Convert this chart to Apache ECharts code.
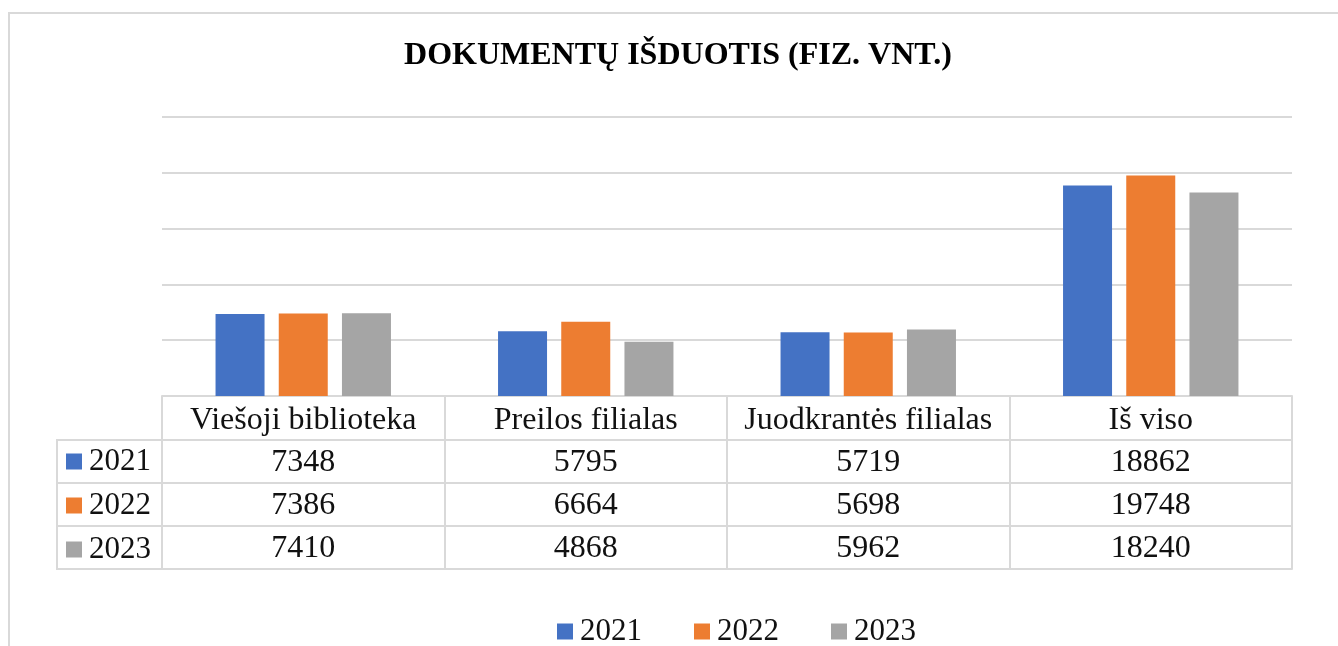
<!DOCTYPE html>
<html>
<head>
<meta charset="utf-8">
<script src="https://cdn.jsdelivr.net/npm/echarts@6/dist/echarts.min.js"></script>
<style>html,body{margin:0;padding:0;background:#fff;}#c{width:1338px;height:646px;}</style>
</head>
<body>
<div id="c"></div>
<script>
const title = 'DOKUMENTŲ IŠDUOTIS (FIZ. VNT.)';
const categories = ['Viešoji biblioteka', 'Preilos filialas', 'Juodkrantės filialas', 'Iš viso'];
const seriesNames = ['2021', '2022', '2023'];
const v2021 = [7348, 5795, 5719, 18862];
const v2022 = [7386, 6664, 5698, 19748];
const v2023 = [7410, 4868, 5962, 18240];
const colors = ['#4472C4', '#ED7D31', '#A5A5A5'];
const yTicks = [0, 5000, 10000, 15000, 20000, 25000];

const seriesValues = [v2021, v2022, v2023];
const FONT = '"Liberation Serif","Times New Roman",serif';
const LINE = '#d9d9d9';
const LW = 2;
const rowOffsets = [44, 87, 130];

const chart = echarts.init(document.getElementById('c'));

const xAxes = [{
  type: 'category', data: categories, gridIndex: 0, position: 'bottom',
  axisLine: { lineStyle: { color: LINE, width: LW } },
  axisTick: { show: true, length: 173, lineStyle: { color: LINE, width: LW } },
  axisLabel: { interval: 0, color: '#111', fontFamily: FONT, fontSize: 32, margin: 25, verticalAlign: 'middle' }
}];
seriesValues.forEach((vals, i) => {
  xAxes.push({
    type: 'category', data: categories, gridIndex: 0, position: 'bottom', offset: rowOffsets[i],
    axisLine: { lineStyle: { color: LINE, width: LW } },
    axisTick: { show: false },
    axisLabel: { interval: 0, color: '#111', fontFamily: FONT, fontSize: 32, margin: 23, verticalAlign: 'middle',
      formatter: (v, idx) => String(vals[idx]) }
  });
});
xAxes.push({
  type: 'category', data: categories, gridIndex: 0, position: 'bottom', offset: 173,
  axisLine: { lineStyle: { color: LINE, width: LW } },
  axisTick: { show: false }, axisLabel: { show: false }
});

const legendText = { color: '#111', fontFamily: FONT, fontSize: 31, lineHeight: 30, padding: [0, 0, 0, 2] };

chart.setOption({
  animation: false,
  color: colors,
  title: {
    text: title, left: 673, top: 35, textAlign: 'center',
    textStyle: { fontFamily: FONT, fontWeight: 'bold', fontSize: 32, color: '#000' }
  },
  legend: [{
    data: seriesNames, orient: 'horizontal', left: 552, top: 611,
    itemWidth: 16, itemHeight: 16, itemGap: 52, icon: 'rect',
    textStyle: legendText
  }, {
    data: seriesNames, orient: 'vertical', left: 61, top: 441,
    itemWidth: 16, itemHeight: 16, itemGap: 13, icon: 'rect',
    textStyle: legendText
  }],
  grid: { left: 162, right: 46, top: 117, bottom: 250, containLabel: false },
  xAxis: xAxes,
  yAxis: {
    type: 'value', min: yTicks[0], max: yTicks[yTicks.length - 1], interval: yTicks[1] - yTicks[0],
    axisLabel: { show: false }, axisLine: { show: false }, axisTick: { show: false },
    splitLine: { lineStyle: { color: LINE, width: LW } }
  },
  series: seriesNames.map((n, i) => ({
    name: n, type: 'bar', xAxisIndex: 0, data: seriesValues[i],
    barWidth: 49, barGap: '29%',
    itemStyle: { color: colors[i] }
  })),
  graphic: [
    { type: 'rect', shape: { x: 9, y: 13, width: 1400, height: 700 }, style: { fill: 'none', stroke: LINE, lineWidth: LW }, silent: true, z: -1 },
    { type: 'line', shape: { x1: 57, y1: 440, x2: 57, y2: 569 }, style: { stroke: LINE, lineWidth: LW } },
    { type: 'line', shape: { x1: 56, y1: 440, x2: 162, y2: 440 }, style: { stroke: LINE, lineWidth: LW } },
    { type: 'line', shape: { x1: 56, y1: 483, x2: 162, y2: 483 }, style: { stroke: LINE, lineWidth: LW } },
    { type: 'line', shape: { x1: 56, y1: 526, x2: 162, y2: 526 }, style: { stroke: LINE, lineWidth: LW } },
    { type: 'line', shape: { x1: 56, y1: 569, x2: 162, y2: 569 }, style: { stroke: LINE, lineWidth: LW } }
  ]
});
</script>
</body>
</html>
